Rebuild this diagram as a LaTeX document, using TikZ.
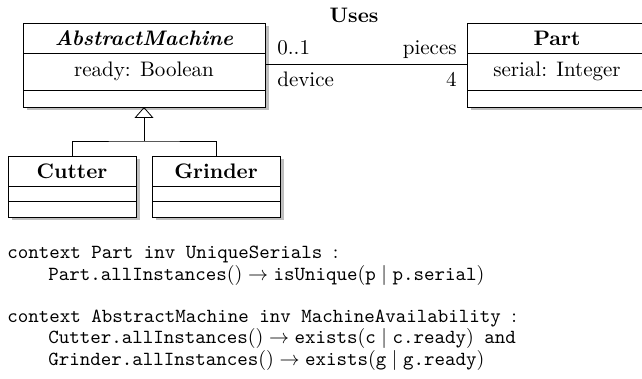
\documentclass[tikz,border=0pt]{standalone}
\usepackage{tikz}
\usetikzlibrary{arrows.meta, positioning, shadows}

\begin{document}
\begin{tikzpicture}[node distance=0pt]
% Define styles
\tikzstyle{umlbox} = [rectangle, draw=black, fill=white, outer sep=0pt, inner sep=1pt, text centered, font=\fontsize{10.5}{12}\selectfont, drop shadow={shadow xshift=1.75pt, shadow yshift=-1.75pt, fill=black!25, opacity=1}]
\tikzstyle{bigclass} = [umlbox, minimum width=121pt]
\tikzstyle{partclass} = [umlbox, minimum width=90pt]
\tikzstyle{smallclass} = [umlbox, minimum width=64pt]
\tikzstyle{rolelabel} = [inner sep=0pt, font=\fontsize{10.5}{12}\selectfont]
\tikzstyle{ocl} = [inner sep=0pt, anchor=base west, font=\ttfamily]

\useasboundingbox (0,0) rectangle (321pt,-189.5pt);

% Classes
\node (amname) [bigclass, minimum height=15pt, anchor=north west] at (11.5pt,-11.5pt) {\textbf{\textit{AbstractMachine}}};
\node (amattr) [bigclass, minimum height=18.5pt, below=of amname] {ready: Boolean};
\node (amops) [bigclass, minimum height=8.5pt, below=of amattr] {};

\node (partname) [partclass, minimum height=15pt, anchor=north west] at (233.5pt,-11.5pt) {\textbf{Part}};
\node (partattr) [partclass, minimum height=18.5pt, below=of partname] {serial: Integer};
\node (partops) [partclass, minimum height=8.5pt, below=of partattr] {};

\node (cutname) [smallclass, minimum height=15pt, anchor=north west] at (4pt,-78pt) {\textbf{Cutter}};
\node (cutattr) [smallclass, minimum height=7.5pt, below=of cutname] {};
\node (cutops) [smallclass, minimum height=8pt, below=of cutattr] {};

\node (grindname) [smallclass, minimum height=15pt, anchor=north west] at (76pt,-78pt) {\textbf{Grinder}};
\node (grindattr) [smallclass, minimum height=7.5pt, below=of grindname] {};
\node (grindops) [smallclass, minimum height=8pt, below=of grindattr] {};

% Association
\draw ([yshift=3.75pt]amattr.east) -- ([yshift=3.75pt]partattr.west)
  node (uses) [pos=0.5, xshift=-6pt, yshift=24.5pt, font=\fontsize{10.5}{12}\selectfont\bfseries] {Uses}
  node (mult1) [rolelabel, pos=0, anchor=base west, xshift=6pt, yshift=4.5pt] {0..1}
  node (role1) [rolelabel, pos=0, anchor=base west, xshift=6pt, yshift=-11.5pt] {device}
  node (role2) [rolelabel, pos=1, anchor=base east, xshift=-5pt, yshift=4.5pt] {pieces}
  node (mult2) [rolelabel, pos=1, anchor=base east, xshift=-5pt, yshift=-11.5pt] {4};

% Generalization
\coordinate (split) at ([yshift=-17pt]amops.south);
\draw[-{Triangle[open, length=5.5pt, width=9.5pt]}] (split) -- (amops.south);
\draw (cutname.north) |- (split) -| (grindname.north);

% Constraints
\node (ocl1) [ocl] at (3.5pt,-129pt) {context Part inv UniqueSerials \rmfamily:};
\node (ocl2) [ocl] at (24pt,-140pt) {$\texttt{Part.allInstances}() \rightarrow \texttt{isUnique}(\texttt{p} \mid \texttt{p.serial})$};
\node (ocl3) [ocl] at (3.5pt,-161pt) {context AbstractMachine inv MachineAvailability \rmfamily:};
\node (ocl4) [ocl] at (24pt,-171.5pt) {$\texttt{Cutter.allInstances}() \rightarrow \texttt{exists}(\texttt{c} \mid \texttt{c.ready})$ and};
\node (ocl5) [ocl] at (24pt,-182.5pt) {$\texttt{Grinder.allInstances}() \rightarrow \texttt{exists}(\texttt{g} \mid \texttt{g.ready})$};

\end{tikzpicture}
\end{document}
